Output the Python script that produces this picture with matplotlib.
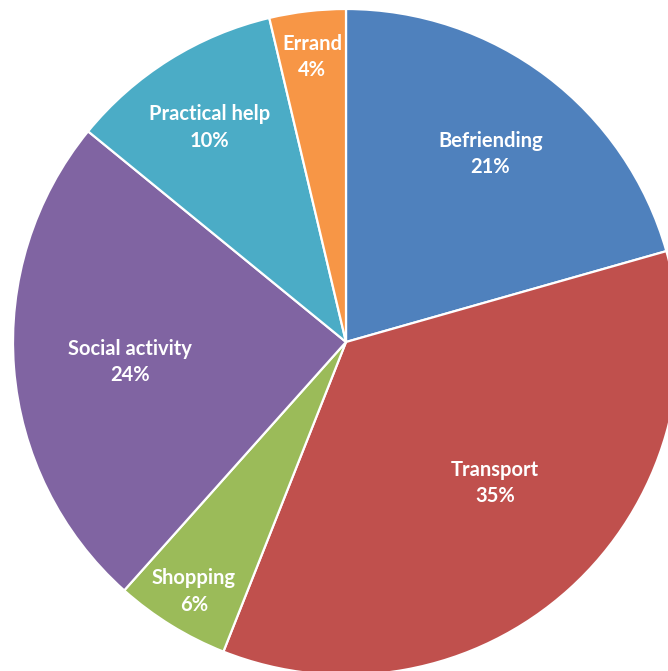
import numpy as np
import matplotlib.pyplot as plt

categories = ['Befriending', 'Transport', 'Shopping', 'Social activity', 'Practical help', 'Errand']
values = [20.6, 35.4, 5.6, 24.3, 10.4, 3.7]
colors = ['#4F81BD', '#C0504D', '#9BBB59', '#8064A2', '#4BACC6', '#F79646']
# label placement: fraction of radius, and angle nudge in degrees
label_r = [0.72, 0.61, 0.87, 0.65, 0.77, 0.87]
label_turn = [0, 5, 0, 0, 0, 0]

W, H = 668, 671
cx, cy, R = 346, 342, 333

fig = plt.figure(figsize=(W / 100, H / 100), dpi=100)
ax = fig.add_axes([0, 0, 1, 1])

wedges, _ = ax.pie(values, colors=colors, startangle=90, counterclock=False,
                   radius=R, center=(0, 0), frame=True,
                   wedgeprops=dict(edgecolor='white', linewidth=1.6))
ax.set_xlim(-cx, W - cx)
ax.set_ylim(-(H - cy), cy)
ax.set_aspect('equal')
ax.axis('off')

total = sum(values)
for w, name, v, fr, dt in zip(wedges, categories, values, label_r, label_turn):
    mid = np.deg2rad((w.theta1 + w.theta2) / 2 + dt)
    x, y = fr * R * np.cos(mid), fr * R * np.sin(mid) - 3
    ax.text(x, y, '%s\n%d%%' % (name, round(100 * v / total)), ha='center', va='center',
            color='white', fontsize=14.5, fontweight='bold', family='Lato',
            linespacing=1.4)

fig.savefig('out.png', dpi=100)
